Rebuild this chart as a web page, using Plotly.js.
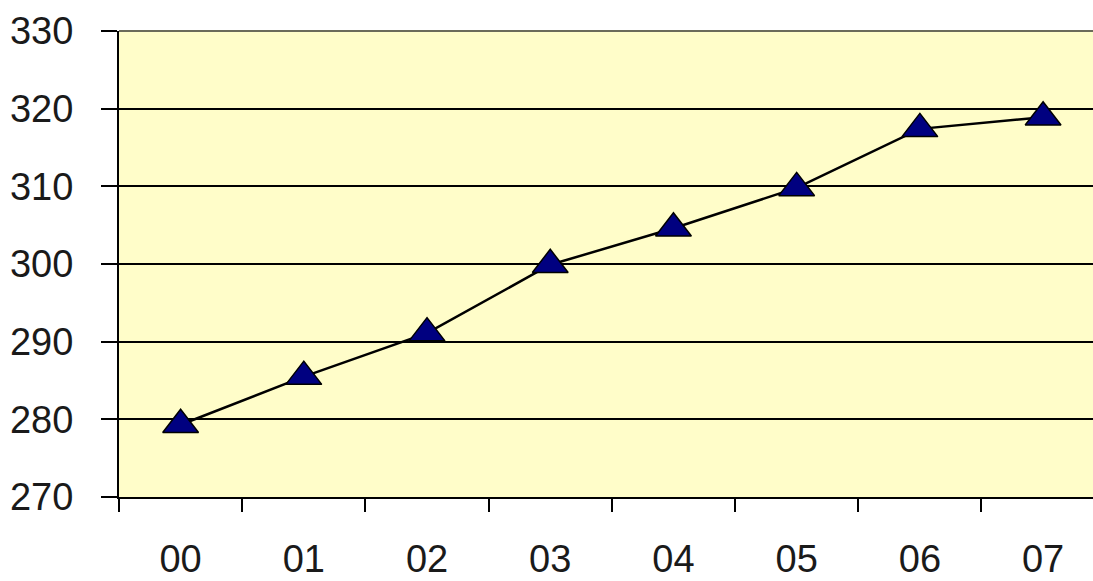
<!DOCTYPE html>
<html>
<head>
<meta charset="utf-8">
<script src="https://cdn.plot.ly/plotly-3.0.1.min.js"></script>
<style>html,body{margin:0;padding:0;background:#fff;}#chart{width:1093px;height:581px;}</style>
</head>
<body>
<div id="chart"></div>
<script>
const categories = ["00", "01", "02", "03", "04", "05", "06", "07"];
const values = [279.3, 285.5, 291.1, 299.9, 304.6, 309.8, 317.4, 318.9];
const yTicks = [270, 280, 290, 300, 310, 320, 330];

const trace = {
  x: categories,
  y: values,
  type: "scatter",
  mode: "lines+markers",
  line: {color: "#000000", width: 2.5},
  marker: {symbol: "triangle-up", size: 31, color: "#000080", line: {color: "#000000", width: 1.5}},
  cliponaxis: false,
  hoverinfo: "none"
};

const layout = {
  width: 1093,
  height: 581,
  margin: {l: 119, r: 0, t: 31, b: 84, pad: 0},
  paper_bgcolor: "#ffffff",
  plot_bgcolor: "#FFFDC9",
  showlegend: false,
  font: {family: "Liberation Sans, Arial, sans-serif", color: "#000000"},
  xaxis: {
    type: "category",
    range: [-0.5, 7.405],
    tickson: "boundaries",
    ticks: "outside",
    ticklen: 13,
    tickwidth: 2,
    tickcolor: "#000000",
    showline: true,
    linecolor: "#000000",
    linewidth: 2,
    showgrid: false,
    tickfont: {size: 38, color: "#1a1a1a"},
    ticklabelstandoff: 27,
    fixedrange: true
  },
  yaxis: {
    range: [270, 330],
    tickvals: yTicks,
    ticktext: yTicks.map(String),
    ticks: "outside",
    ticklen: 16,
    tickwidth: 2,
    tickcolor: "#000000",
    showline: true,
    linecolor: "#000000",
    linewidth: 2,
    showgrid: true,
    gridcolor: "#000000",
    gridwidth: 2,
    zeroline: false,
    tickfont: {size: 38, color: "#1a1a1a"},
    ticklabelstandoff: 20,
    fixedrange: true
  },
  shapes: [{
    type: "line", xref: "paper", yref: "paper", x0: 0, x1: 1, y0: 1, y1: 1,
    line: {color: "#6b6b5a", width: 2}
  }]
};

Plotly.newPlot("chart", [trace], layout, {displayModeBar: false, staticPlot: true});
</script>
</body>
</html>
